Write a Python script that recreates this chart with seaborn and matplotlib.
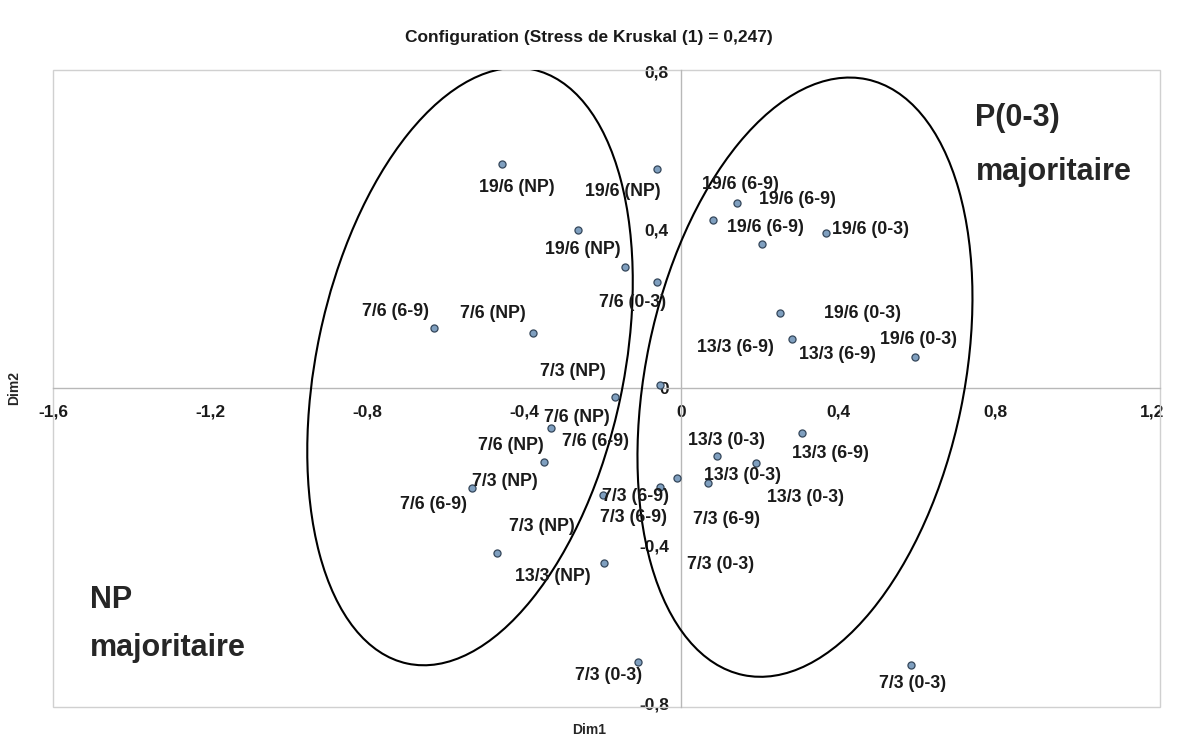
import pandas as pd
import seaborn as sns
import matplotlib.pyplot as plt
from matplotlib.patches import Ellipse, Rectangle

# Coordonnees MDS
dim1 = [-0.456, -0.061, -0.262, -0.143, -0.061, -0.629, -0.377, -0.168, -0.331, -0.349,
        -0.532, -0.199, -0.054, -0.010, -0.469, -0.196, -0.110, -0.054,
        0.143, 0.082, 0.206, 0.369, 0.252, 0.283, 0.596, 0.308, 0.092, 0.191, 0.069, 0.586]
dim2 = [0.567, 0.554, 0.400, 0.306, 0.268, 0.152, 0.139, -0.023, -0.101, -0.187,
        -0.253, -0.271, -0.251, -0.228, -0.418, -0.443, -0.694, 0.008,
        0.468, 0.425, 0.365, 0.392, 0.190, 0.124, 0.078, -0.114, -0.172, -0.190, -0.241, -0.701]

# Etiquettes (texte et position lue)
lab_txt = ['19/6 (NP)', '19/6 (NP)', '19/6 (NP)', '19/6 (6-9)', '19/6 (6-9)', '19/6 (6-9)',
           '19/6 (0-3)', '19/6 (0-3)', '19/6 (0-3)', '7/6 (0-3)', '7/6 (6-9)', '7/6 (NP)',
           '13/3 (6-9)', '13/3 (6-9)', '7/3 (NP)', '7/6 (NP)', '7/6 (NP)', '7/6 (6-9)',
           '13/3 (0-3)', '13/3 (6-9)', '13/3 (0-3)', '13/3 (0-3)', '7/3 (NP)', '7/6 (6-9)',
           '7/3 (6-9)', '7/3 (6-9)', '7/3 (6-9)', '7/3 (NP)', '7/3 (0-3)', '13/3 (NP)',
           '7/3 (0-3)', '7/3 (0-3)']
lab_x = [-0.418, -0.148, -0.250, 0.150, 0.296, 0.214, 0.482, 0.461, 0.604, -0.125, -0.729, -0.479,
         0.138, 0.397, -0.275, -0.265, -0.433, -0.219, 0.115, 0.380, 0.155, 0.316, -0.448, -0.632,
         -0.117, -0.122, 0.115, -0.354, 0.099, -0.326, -0.186, 0.589]
lab_y = [0.506, 0.496, 0.349, 0.514, 0.476, 0.405, 0.400, 0.187, 0.122, 0.215, 0.192, 0.187,
         0.101, 0.084, 0.041, -0.076, -0.147, -0.137, -0.132, -0.167, -0.223, -0.278, -0.238, -0.296,
         -0.276, -0.329, -0.332, -0.352, -0.446, -0.478, -0.727, -0.749]

x_ticks = [-1.6, -1.2, -0.8, -0.4, 0, 0.4, 0.8, 1.2]
y_ticks = [-0.8, -0.4, 0, 0.4, 0.8]

df = pd.DataFrame({'Dim1': dim1, 'Dim2': dim2})

sns.set_style("white")
plt.rcParams['font.family'] = ['Liberation Sans', 'DejaVu Sans']

fig = plt.figure(figsize=(11.78, 7.42), dpi=100)
ax = fig.add_axes([0.045, 0.047, 0.940, 0.859])

sns.scatterplot(data=df, x='Dim1', y='Dim2', ax=ax, s=26, color='#7f9fbf',
                edgecolor='#34465a', linewidth=0.9, zorder=4)

for t, x, y in zip(lab_txt, lab_x, lab_y):
    ax.text(x, y, t, ha='center', va='center', fontsize=12.8, fontweight='bold',
            color='#1a1a1a', zorder=5)

# ellipses de regroupement
ax.add_patch(Ellipse((-0.538, 0.054), 0.782, 1.537, angle=-12, fill=False,
                     edgecolor='black', linewidth=1.5, zorder=3))
ax.add_patch(Ellipse((0.315, 0.027), 0.81, 1.54, angle=-11.8, fill=False,
                     edgecolor='black', linewidth=1.5, zorder=3))

ax.text(0.749, 0.684, 'P(0-3)', fontsize=22, fontweight='bold', va='center', ha='left')
ax.text(0.749, 0.547, 'majoritaire', fontsize=22, fontweight='bold', va='center', ha='left')
ax.text(-1.506, -0.537, 'NP', fontsize=22, fontweight='bold', va='center', ha='left')
ax.text(-1.506, -0.658, 'majoritaire', fontsize=22, fontweight='bold', va='center', ha='left')

ax.set_xlim(-1.6, 1.22)
ax.set_ylim(-0.808, 0.805)

# axes qui se croisent en zero (style tableur)
for side in ['top', 'right']:
    ax.spines[side].set_visible(False)
for side in ['left', 'bottom']:
    ax.spines[side].set_position(('data', 0))
    ax.spines[side].set_color('#b8b8b8')
    ax.spines[side].set_linewidth(1.0)
ax.add_patch(Rectangle((0, 0), 1, 1, transform=ax.transAxes, fill=False,
                       edgecolor='#d0d0d0', linewidth=1.0, clip_on=False))

ax.set_xticks(x_ticks)
ax.set_xticklabels([f'{v:g}'.replace('.', ',') for v in x_ticks])
ax.set_yticks(y_ticks)
ax.set_yticklabels([f'{v:g}'.replace('.', ',') for v in y_ticks])
ax.tick_params(axis='both', direction='inout', length=6, width=0.8, color='#b8b8b8',
               labelsize=12.5, labelcolor='#1a1a1a')
ax.tick_params(axis='x', pad=9)
ax.tick_params(axis='y', pad=6)
for lbl in ax.get_xticklabels() + ax.get_yticklabels():
    lbl.set_fontweight('bold')
ax.set_xlabel('')
ax.set_ylabel('')

fig.text(0.5, 0.949, 'Configuration (Stress de Kruskal (1) = 0,247)', ha='center', va='center',
         fontsize=12.5, fontweight='bold', color='#1a1a1a')
fig.text(0.5, 0.016, 'Dim1', ha='center', va='center', fontsize=10, fontweight='bold')
fig.text(0.012, 0.477, 'Dim2', ha='center', va='center', rotation=90, fontsize=10, fontweight='bold')

plt.savefig('out.png', dpi=100)
